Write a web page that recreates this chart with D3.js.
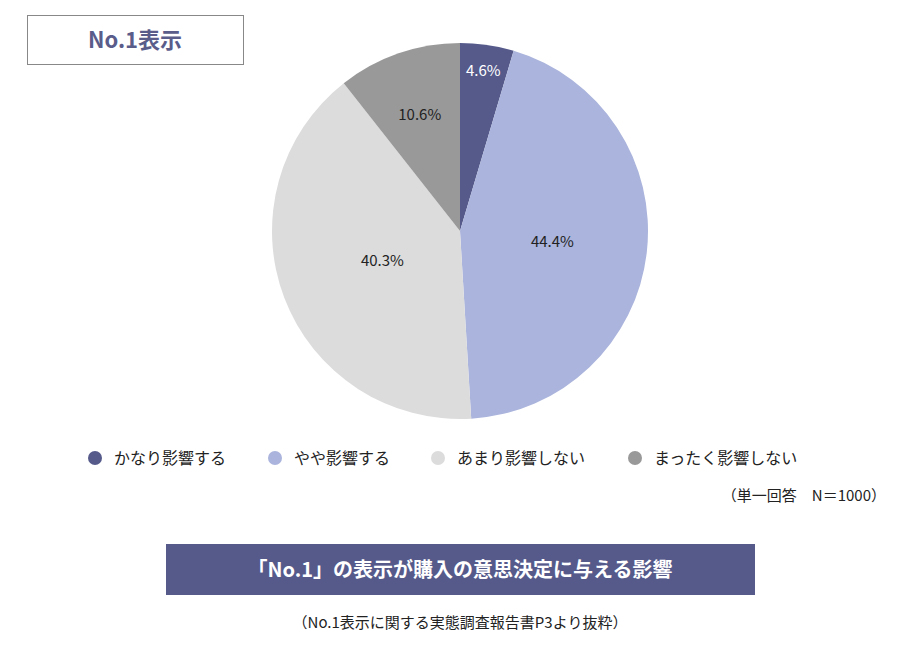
<!DOCTYPE html>
<html><head><meta charset="utf-8">
<script src="https://cdn.jsdelivr.net/npm/d3@7"></script>
<style>body{margin:0;background:#fff}</style>
</head><body>
<svg id="c" width="920" height="650"></svg>
<script>
const categories = ["かなり影響する","やや影響する","あまり影響しない","まったく影響しない"];
const values = [4.6, 44.4, 40.3, 10.6];
const colors = ["#555a8b","#aab4dc","#dcdcdc","#999999"];
const labelColors = ["#fff","#222","#222","#222"];
const labelRadius = [162, 93, 83, 123];
const title = "No.1表示";
const note = "（単一回答　N＝1000）";
const banner = "「No.1」の表示が購入の意思決定に与える影響";
const source = "（No.1表示に関する実態調査報告書P3より抜粋）";
const font = "'Noto Sans CJK JP','Noto Sans',sans-serif";

const svg = d3.select("#c").style("font-family", font);
svg.append("rect").attr("x",27.5).attr("y",15.5).attr("width",216).attr("height",49)
  .attr("fill","#fff").attr("stroke","#888");
svg.append("text").attr("x",135).attr("y",48).attr("text-anchor","middle")
  .attr("font-size",22).attr("font-weight",700).attr("fill","#5a5c8a").text(title);

const cx=460, cy=231, R=188;
const pie = d3.pie().sort(null).value(d=>d);
const arcs = pie(values);
const arc = d3.arc().innerRadius(0).outerRadius(R);
const g = svg.append("g").attr("transform",`translate(${cx},${cy})`);
g.selectAll("path").data(arcs).join("path").attr("d",arc).attr("fill",(d,i)=>colors[i]);
g.selectAll("text").data(arcs).join("text")
  .attr("transform",(d,i)=>{const a=(d.startAngle+d.endAngle)/2;return `translate(${labelRadius[i]*Math.sin(a)},${-labelRadius[i]*Math.cos(a)})`;})
  .attr("text-anchor","middle").attr("dy","0.35em").attr("font-size",15)
  .attr("fill",(d,i)=>labelColors[i]).text(d=>d.data.toFixed(1)+"%");

const lx = [95, 275, 438, 635];
const lg = svg.append("g");
categories.forEach((c,i)=>{
  lg.append("circle").attr("cx",lx[i]).attr("cy",458).attr("r",7).attr("fill",colors[i]);
  lg.append("text").attr("x",lx[i]+19).attr("y",464).attr("font-size",16).attr("fill","#222").text(c);
});
svg.append("text").attr("x",886).attr("y",501).attr("text-anchor","end").attr("font-size",15).attr("fill","#222").text(note);
svg.append("rect").attr("x",166).attr("y",544).attr("width",589).attr("height",51).attr("fill","#555a8b");
svg.append("text").attr("x",460).attr("y",577).attr("text-anchor","middle").attr("font-size",20).attr("font-weight",700).attr("fill","#fff").text(banner);
svg.append("text").attr("x",460).attr("y",628).attr("text-anchor","middle").attr("font-size",15).attr("fill","#222").text(source);
</script>
</body></html>
